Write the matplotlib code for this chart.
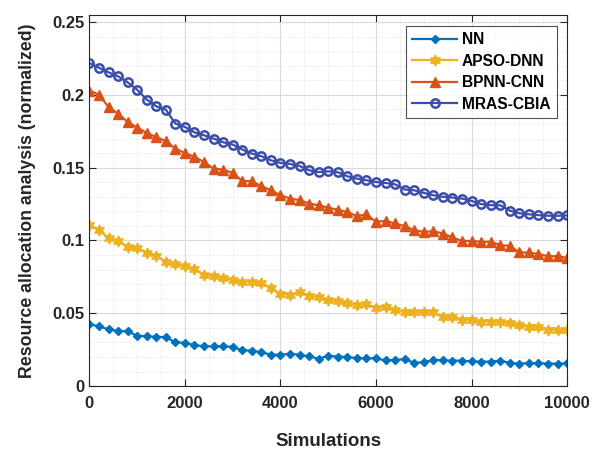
import numpy as np
import matplotlib
matplotlib.use('Agg')
import matplotlib.pyplot as plt
from matplotlib.ticker import MultipleLocator

# 시뮬레이션 횟수 (0 ~ 10000, 200 간격)
simulations = list(range(0, 10001, 200))

nn = [0.0425, 0.0410, 0.0390, 0.0378, 0.0376, 0.0345, 0.0343, 0.0338, 0.0336, 0.0300,
      0.0298, 0.0280, 0.0274, 0.0273, 0.0272, 0.0270, 0.0245, 0.0244, 0.0232, 0.0216,
      0.0215, 0.0222, 0.0215, 0.0204, 0.0188, 0.0208, 0.0203, 0.0199, 0.0192, 0.0191,
      0.0190, 0.0176, 0.0180, 0.0184, 0.0160, 0.0163, 0.0180, 0.0176, 0.0175, 0.0175,
      0.0169, 0.0168, 0.0168, 0.0175, 0.0158, 0.0154, 0.0157, 0.0157, 0.0154, 0.0154,
      0.0155]

apso_dnn = [0.1108, 0.1073, 0.1016, 0.0999, 0.0958, 0.0947, 0.0917, 0.0894, 0.0855, 0.0839,
            0.0826, 0.0805, 0.0764, 0.0757, 0.0741, 0.0730, 0.0718, 0.0717, 0.0707, 0.0673,
            0.0633, 0.0627, 0.0649, 0.0620, 0.0611, 0.0592, 0.0581, 0.0569, 0.0558, 0.0564,
            0.0535, 0.0546, 0.0524, 0.0512, 0.0508, 0.0511, 0.0511, 0.0473, 0.0477, 0.0455,
            0.0455, 0.0443, 0.0443, 0.0442, 0.0432, 0.0421, 0.0409, 0.0408, 0.0387, 0.0387,
            0.0388]

bpnn_cnn = [0.2030, 0.2002, 0.1917, 0.1872, 0.1814, 0.1776, 0.1739, 0.1711, 0.1682, 0.1631,
            0.1601, 0.1574, 0.1539, 0.1494, 0.1487, 0.1464, 0.1409, 0.1407, 0.1373, 0.1345,
            0.1311, 0.1288, 0.1277, 0.1254, 0.1242, 0.1226, 0.1210, 0.1196, 0.1167, 0.1180,
            0.1128, 0.1135, 0.1117, 0.1098, 0.1071, 0.1059, 0.1064, 0.1048, 0.1021, 0.0997,
            0.0997, 0.0991, 0.0991, 0.0968, 0.0963, 0.0918, 0.0918, 0.0906, 0.0892, 0.0892,
            0.0880]

mras_cbia = [0.2219, 0.2187, 0.2155, 0.2128, 0.2087, 0.2036, 0.1968, 0.1922, 0.1899, 0.1803,
             0.1780, 0.1743, 0.1723, 0.1700, 0.1675, 0.1659, 0.1625, 0.1597, 0.1579, 0.1551,
             0.1533, 0.1526, 0.1512, 0.1482, 0.1470, 0.1475, 0.1469, 0.1441, 0.1425, 0.1414,
             0.1402, 0.1395, 0.1386, 0.1350, 0.1345, 0.1327, 0.1311, 0.1300, 0.1295, 0.1288,
             0.1272, 0.1250, 0.1243, 0.1242, 0.1205, 0.1187, 0.1180, 0.1174, 0.1170, 0.1170,
             0.1172]

plt.rcParams['font.family'] = ['Liberation Sans', 'DejaVu Sans']
plt.rcParams['font.weight'] = 'bold'

fig = plt.figure(figsize=(5.92, 4.51), dpi=100)
ax = fig.add_axes([0.151, 0.144, 0.807, 0.823])

# MATLAB 스타일 마커 (hexagram 은 6각 별)
ax.plot(simulations, nn, color='#0072BD', marker='D', markersize=4.5, lw=1.6,
        label='NN')
ax.plot(simulations, apso_dnn, color='#EDB120', marker=(6, 1, 0), markersize=8, lw=1.6,
        label='APSO-DNN')
ax.plot(simulations, bpnn_cnn, color='#D95319', marker='^', markersize=7, lw=1.6,
        label='BPNN-CNN')
ax.plot(simulations, mras_cbia, color='#3A4DAA', marker='o', markersize=6, lw=1.6,
        mfc='none', mew=1.8, label='MRAS-CBIA')

ax.set_xlim(0, 10000)
ax.set_ylim(0, 0.255)
ax.set_xticks(np.arange(0, 10001, 2000))
ax.set_yticks([0, 0.05, 0.1, 0.15, 0.2, 0.25])
ax.set_yticklabels(['0', '0.05', '0.1', '0.15', '0.2', '0.25'])
ax.xaxis.set_minor_locator(MultipleLocator(500))
ax.yaxis.set_minor_locator(MultipleLocator(0.01))

ax.grid(True, which='major', color='#d9d9d9', lw=0.8)
ax.grid(True, which='minor', color='#dcdcdc', lw=0.6, linestyle=':')
ax.set_axisbelow(True)

ax.tick_params(which='both', direction='in', top=True, right=True, colors='#262626',
               labelsize=12)
ax.tick_params(axis='x', which='major', pad=7)
ax.tick_params(which='major', length=5)
ax.tick_params(which='minor', length=0)
for sp in ax.spines.values():
    sp.set_color('#262626')
    sp.set_linewidth(0.8)

ax.set_xlabel('Simulations', fontsize=13.5, fontweight='bold', color='#262626',
              labelpad=16)
ax.set_ylabel('Resource allocation analysis (normalized)', fontsize=12.8,
              fontweight='bold', color='#262626', labelpad=12)

leg = ax.legend(loc='upper right', fontsize=11.2, frameon=True, fancybox=False,
                edgecolor='#262626', handlelength=2.9, handletextpad=0.3,
                borderpad=0.4, labelspacing=0.42, borderaxespad=0,
                bbox_to_anchor=(0.978, 0.97))
leg.get_frame().set_linewidth(0.8)
for t in leg.get_texts():
    t.set_fontweight('bold')

plt.savefig('out.png', dpi=100)
